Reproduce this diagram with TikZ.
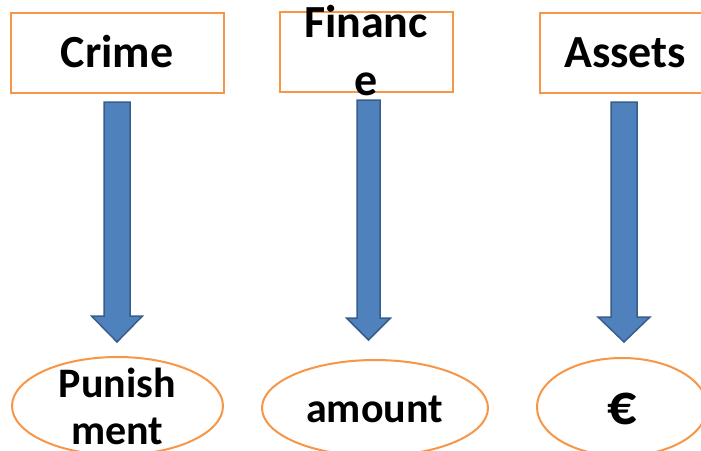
\documentclass[tikz,border=0pt]{standalone}
\usepackage{fontspec}
\setmainfont{Carlito}
\usetikzlibrary{shapes.geometric}
\definecolor{boxorange}{HTML}{F79646}
\definecolor{arrowfill}{HTML}{4F81BD}
\definecolor{arrowline}{HTML}{385D8A}
\tikzset{
  termbox/.style={draw=boxorange, line width=2pt, fill=white, inner sep=0pt},
  termoval/.style={ellipse, draw=boxorange, line width=2pt, fill=white, inner sep=0pt},
  boxtext/.style={font=\fontsize{46}{58}\selectfont\bfseries, inner sep=0pt, align=center},
  ovaltext/.style={font=\fontsize{42}{47}\selectfont\bfseries, inner sep=0pt, align=center},
  blockarrow/.style={fill=arrowfill, draw=arrowline, line width=1.5pt, line join=miter}
}
\begin{document}
\begin{tikzpicture}[x=1pt, y=-1pt]
  \useasboundingbox (0,0) rectangle (701,450);
  % top boxes
  \node[termbox, minimum width=213pt, minimum height=80pt] (crime) at (117.5,53) {};
  \node[termbox, minimum width=173pt, minimum height=80pt] (finance) at (366.5,52) {};
  \node[termbox, minimum width=170pt, minimum height=80pt] (assets) at (625,53) {};
  % bottom ovals
  \node[termoval, minimum width=211pt, minimum height=98pt] (punish) at (117.5,406) {};
  \node[termoval, minimum width=226pt, minimum height=96pt] (amount) at (375,408) {};
  \node[termoval, minimum width=170pt, minimum height=98pt] (euro) at (622,407) {};
  % block arrows
  \foreach \x/\t/\p/\sw/\hw/\hb in {117/102/342/13/25.5/316, 368.5/100/340/11.5/22/318, 624/102/342/13/26/317}{
    \draw[blockarrow] (\x-\sw,\t) -- (\x+\sw,\t) -- (\x+\sw,\hb) -- (\x+\hw,\hb)
      -- (\x,\p) -- (\x-\hw,\hb) -- (\x-\sw,\hb) -- cycle;
  }
  % texts
  \node[boxtext, anchor=base] (crimetext) at (117,67) {Crime};
  \node[boxtext] (financetext) at (366,51) {Financ\\e};
  \node[boxtext, anchor=base] (assetstext) at (625,67) {Assets};
  \node[ovaltext] (punishtext) at (117.5,406) {Punish\\ment};
  \node[ovaltext, anchor=base] (amounttext) at (374.5,422) {amount};
  \node[font=\fontsize{58}{60}\selectfont\bfseries, inner sep=0pt, anchor=base] (eurotext) at (622.5,424) {€};
\end{tikzpicture}
\end{document}
